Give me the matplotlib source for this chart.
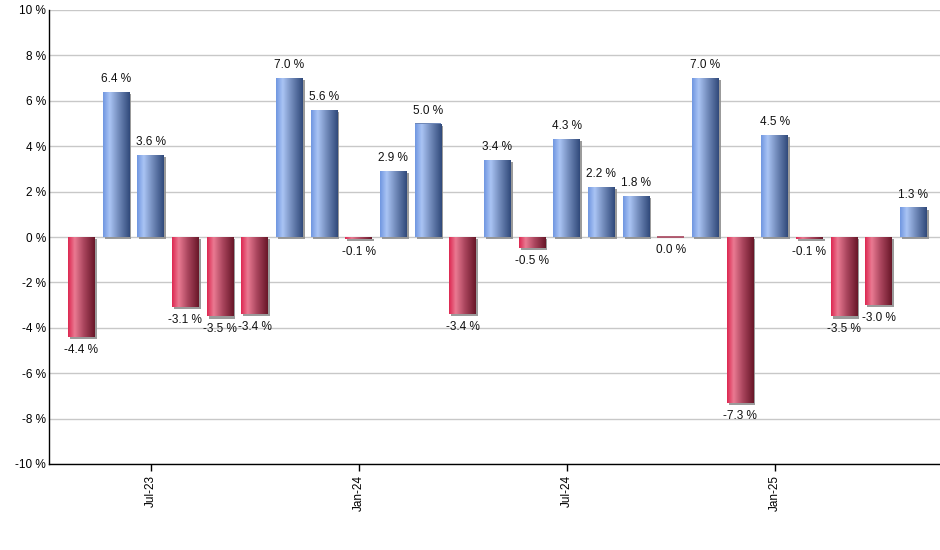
import matplotlib
matplotlib.use("Agg")
import matplotlib.pyplot as plt
import numpy as np
from matplotlib import patheffects as pe
from matplotlib.colors import LinearSegmentedColormap

months = ["May-23", "Jun-23", "Jul-23", "Aug-23", "Sep-23", "Oct-23", "Nov-23", "Dec-23",
          "Jan-24", "Feb-24", "Mar-24", "Apr-24", "May-24", "Jun-24", "Jul-24", "Aug-24",
          "Sep-24", "Oct-24", "Nov-24", "Dec-24", "Jan-25", "Feb-25", "Mar-25", "Apr-25", "May-25"]
returns = [-4.4, 6.4, 3.6, -3.1, -3.5, -3.4, 7.0, 5.6, -0.1, 2.9, 5.0, -3.4, 3.4, -0.5,
           4.3, 2.2, 1.8, 0.0, 7.0, -7.3, 4.5, -0.1, -3.5, -3.0, 1.3]
tick_months = ["Jul-23", "Jan-24", "Jul-24", "Jan-25"]
yticks = [-10, -8, -6, -4, -2, 0, 2, 4, 6, 8, 10]

plt.rcParams['font.family'] = ['Liberation Sans', 'DejaVu Sans']

fig = plt.figure(figsize=(9.4, 5.5), dpi=100)
ax = fig.add_axes([49/940, (550-464)/550, (940-49)/940, (464-10)/550])

blue_cmap = LinearSegmentedColormap.from_list(
    "b", [(0, "#6f96e0"), (0.25, "#aac4f4"), (0.6, "#6f88b8"), (1, "#30497a")])
red_cmap = LinearSegmentedColormap.from_list(
    "r", [(0, "#dc2650"), (0.25, "#ea7a92"), (0.6, "#a8445c"), (1, "#681628")])
grad = np.linspace(0, 1, 256).reshape(1, -1)

x = np.arange(len(months))
width = 0.77
colors = ["#6f88b8" if v > 0 else "#a8445c" for v in returns]
bars = ax.bar(x, returns, width=width, color=colors, zorder=2, linewidth=0,
              path_effects=[pe.SimplePatchShadow(offset=(1.5, -1.5), shadow_rgbFace="#909090", alpha=0.9), pe.Normal()])
for b, v in zip(bars, returns):
    if v == 0:
        b.set_edgecolor("#a8445c")
        b.set_linewidth(1.2)
        b.set_path_effects([])
        continue
    x0 = b.get_x()
    y0, y1 = sorted([0, v])
    im = ax.imshow(grad, cmap=blue_cmap if v > 0 else red_cmap, aspect="auto",
                   extent=[x0, x0 + b.get_width(), y0, y1], zorder=3, interpolation="bilinear")
    im.set_clip_path(b)

for xi, v in zip(x, returns):
    if v > 0:
        ax.annotate(f"{v:.1f} %", (xi, v), xytext=(0, 5), textcoords="offset points",
                    ha="center", va="bottom", fontsize=8.5, color="#111111")
    else:
        ax.annotate(f"{v:.1f} %", (xi, v), xytext=(0, -5), textcoords="offset points",
                    ha="center", va="top", fontsize=8.5, color="#111111")

ax.set_xlim(-0.93, 24.77)
ax.set_ylim(-10, 10)
ax.set_yticks(yticks)
ax.set_yticklabels([f"{t} %" for t in yticks], fontsize=8.5)
ax.set_xticks([months.index(m) for m in tick_months])
ax.set_xticklabels(tick_months, rotation=90, fontsize=8.5)
ax.tick_params(axis="y", length=0, pad=2)
ax.tick_params(axis="x", length=5, width=1, pad=3)
ax.grid(axis="y", color="#c8c8c8", linewidth=1, zorder=0)
ax.set_axisbelow(True)
for s in ["top", "right"]:
    ax.spines[s].set_visible(False)
for s in ["left", "bottom"]:
    ax.spines[s].set_color("black")
    ax.spines[s].set_linewidth(1)

fig.savefig("out.png", dpi=100)
